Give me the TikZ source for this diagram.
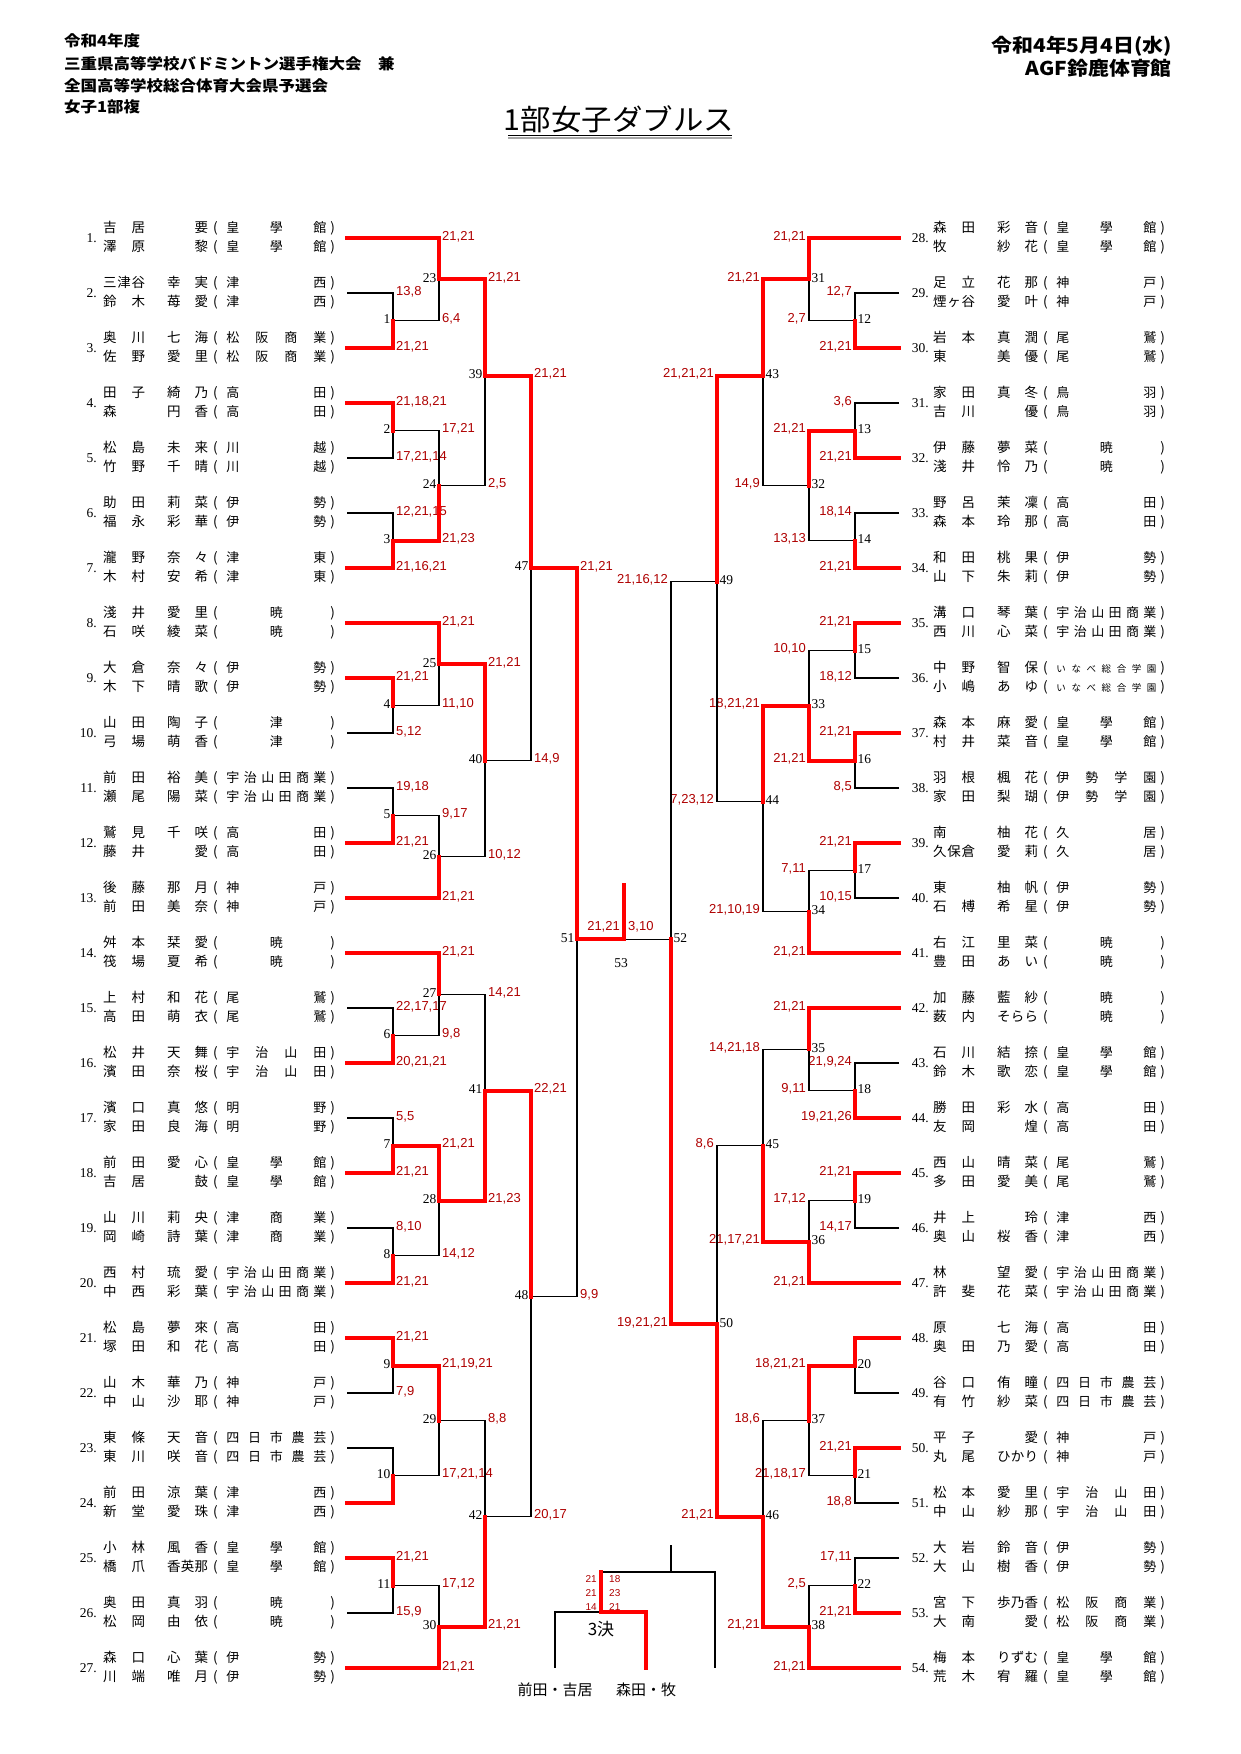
\documentclass[tikz,border=0pt]{standalone}
\usepackage{fontspec}
\usepackage{graphicx}
\setmainfont{Liberation Serif}
\newfontfamily\jpfont{Noto Sans CJK JP}
\newfontfamily\scorefont{Liberation Sans}
\definecolor{scorered}{RGB}{175,0,0}
\definecolor{linered}{RGB}{255,0,0}
\pgfdeclarelayer{front}
\pgfsetlayers{main,front}
% spreading of characters
\def\spfirst#1{#1\spnext}
\def\spnext#1{\ifx\relax#1\else\hskip0pt plus1fill\relax#1\expandafter\spnext\fi}
\def\spF#1\relax{\spfirst#1\relax\hskip0pt plus1fil\relax}
\def\spG#1\relax{\hskip0pt plus1fil\relax\spfirst#1\relax}
\def\spS#1\relax{\hskip0pt plus1fil\relax\spfirst#1\relax\hskip0pt plus1fil\relax}
\newcommand\nrow[4]{\makebox[42pt][s]{\spF#1\relax}\hspace{22pt}\makebox[41pt][s]{\spG#2\relax}\hspace{5pt}(\hspace{8.7pt}\makebox[100pt][s]{\fontsize{#4}{#4}\selectfont\spS#3\relax}\hspace{4pt})}
\tikzset{
  win/.style={draw=linered, line width=4pt, line cap=rect, line join=miter},
  lose/.style={draw=black, line width=1.3pt},
  scbase/.style={inner sep=0pt, text=scorered, font=\scorefont\fontsize{13}{13}\selectfont},
  scL/.style={scbase, anchor=west, xshift=3pt, yshift=1.5pt},
  scR/.style={scbase, anchor=east, xshift=-3pt, yshift=1.5pt},
  mnbase/.style={inner sep=0pt, font=\fontsize{13.5}{13.5}\selectfont},
  mnL/.style={mnbase, anchor=east, xshift=-2.5pt, yshift=1.5pt},
  mnR/.style={mnbase, anchor=west, xshift=2.5pt, yshift=1.5pt},
  numst/.style={anchor=east, inner sep=0pt, font=\fontsize{13.5}{13.5}\selectfont},
  namest/.style={anchor=west, inner sep=0pt, font=\jpfont\fontsize{13.5}{13.5}\selectfont},
  hdr/.style={inner sep=0pt, font=\jpfont\bfseries\fontsize{15}{15}\selectfont},
  hdrR/.style={inner sep=0pt, anchor=east, font=\jpfont\bfseries\fontsize{19}{19}\selectfont},
  qsc/.style={inner sep=0pt, text=scorered, font=\scorefont\fontsize{10}{10}\selectfont},
}
\newcommand\EL[7][13]{%
  \coordinate (e#2) at (347,{238+55*(#2-1)});
  \node[numst] (en#2) at (97,{238+55*(#2-1)}) {#2.};
  \node[namest] (ea#2) at (103,{228+55*(#2-1)}) {\nrow{#3}{#4}{#7}{#1}};
  \node[namest] (eb#2) at (103,{247+55*(#2-1)}) {\nrow{#5}{#6}{#7}{#1}};
}
\newcommand\ER[7][13]{%
  \coordinate (e#2) at (899,{238+55*(#2-28)});
  \node[numst] (en#2) at (929,{238+55*(#2-28)}) {#2.};
  \node[namest] (ea#2) at (933,{228+55*(#2-28)}) {\nrow{#3}{#4}{#7}{#1}};
  \node[namest] (eb#2) at (933,{247+55*(#2-28)}) {\nrow{#5}{#6}{#7}{#1}};
}
\newcommand\M[9]{%
  \coordinate (m#1a) at (#3 -| #2);
  \coordinate (m#1b) at (#4 -| #2);
  \path (#2) ++(0,{238+13.75*#5}) coordinate (m#1);
  \ifnum#6=1
    \draw[lose] (#4) -- (m#1b) -- (m#1);
    \begin{pgfonlayer}{front}\draw[win] (#3) -- (m#1a) -- (m#1);\end{pgfonlayer}
  \else
    \draw[lose] (#3) -- (m#1a) -- (m#1);
    \begin{pgfonlayer}{front}\draw[win] (#4) -- (m#1b) -- (m#1);\end{pgfonlayer}
  \fi
  \node[sc#9] (s#1a) at (m#1a) {#7};
  \node[sc#9] (s#1b) at (m#1b) {#8};
  \node[mn#9] (n#1) at (m#1) {#1};
}
\begin{document}
\begin{tikzpicture}[x=1pt,y=-1pt]
\useasboundingbox[fill=white] (0,0) rectangle (1240,1754);
% header
\node[hdr, anchor=west] (h1) at (64,41) {\scalebox{1.1}[1]{令和4年度}};
\node[hdr, anchor=west] (h2) at (64,64) {\scalebox{1.1}[1]{三重県高等学校バドミントン選手権大会　兼}};
\node[hdr, anchor=west] (h3) at (64,86) {\scalebox{1.1}[1]{全国高等学校総合体育大会県予選会}};
\node[hdr, anchor=west] (h4) at (64,107) {\scalebox{1.1}[1]{女子1部複}};
\node[hdrR] (h5) at (1172,46) {\scalebox{1.1}[1]{令和4年5月4日(水)}};
\node[hdrR] (h6) at (1172,68) {\scalebox{1.1}[1]{AGF鈴鹿体育館}};
\node[inner sep=0pt, anchor=base, font=\jpfont\fontsize{29}{29}\selectfont] (title) at (619,130) {\scalebox{1.05}[1]{1部女子ダブルス}};
\coordinate (ul1) at (508,135.5);
\coordinate (ul2) at (732,135.5);
\coordinate (ul3) at (508,138);
\coordinate (ul4) at (732,138);
\draw[line width=1.4pt] (ul1) -- (ul2);
\draw[line width=1.4pt, black!35] (ul3) -- (ul4);
% columns
\coordinate (cL1) at (393,0);
\coordinate (cL2) at (439,0);
\coordinate (cL3) at (485,0);
\coordinate (cL4) at (531,0);
\coordinate (cL5) at (577,0);
\coordinate (cC) at (624,0);
\coordinate (cR5) at (671,0);
\coordinate (cR4) at (717,0);
\coordinate (cR3) at (763,0);
\coordinate (cR2) at (809,0);
\coordinate (cR1) at (855,0);
% left entries
\EL{1}{吉居}{要}{澤原}{黎}{皇學館}
\EL{2}{三津谷}{幸実}{鈴木}{苺愛}{津西}
\EL{3}{奥川}{七海}{佐野}{愛里}{松阪商業}
\EL{4}{田子}{綺乃}{森}{円香}{高田}
\EL{5}{松島}{未来}{竹野}{千晴}{川越}
\EL{6}{助田}{莉菜}{福永}{彩華}{伊勢}
\EL{7}{瀧野}{奈々}{木村}{安希}{津東}
\EL{8}{淺井}{愛里}{石咲}{綾菜}{暁}
\EL{9}{大倉}{奈々}{木下}{晴歌}{伊勢}
\EL{10}{山田}{陶子}{弓場}{萌香}{津}
\EL{11}{前田}{裕美}{瀬尾}{陽菜}{宇治山田商業}
\EL{12}{鷲見}{千咲}{藤井}{愛}{高田}
\EL{13}{後藤}{那月}{前田}{美奈}{神戸}
\EL{14}{舛本}{栞愛}{筏場}{夏希}{暁}
\EL{15}{上村}{和花}{高田}{萌衣}{尾鷲}
\EL{16}{松井}{天舞}{濱田}{奈桜}{宇治山田}
\EL{17}{濱口}{真悠}{家田}{良海}{明野}
\EL{18}{前田}{愛心}{吉居}{鼓}{皇學館}
\EL{19}{山川}{莉央}{岡崎}{詩葉}{津商業}
\EL{20}{西村}{琉愛}{中西}{彩葉}{宇治山田商業}
\EL{21}{松島}{夢來}{塚田}{和花}{高田}
\EL{22}{山木}{華乃}{中山}{沙耶}{神戸}
\EL{23}{東條}{天音}{東川}{咲音}{四日市農芸}
\EL{24}{前田}{涼葉}{新堂}{愛珠}{津西}
\EL{25}{小林}{風香}{橋爪}{香英那}{皇學館}
\EL{26}{奥田}{真羽}{松岡}{由依}{暁}
\EL{27}{森口}{心葉}{川端}{唯月}{伊勢}
% right entries
\ER{28}{森田}{彩音}{牧}{紗花}{皇學館}
\ER{29}{足立}{花那}{煙ヶ谷}{愛叶}{神戸}
\ER{30}{岩本}{真潤}{東}{美優}{尾鷲}
\ER{31}{家田}{真冬}{吉川}{優}{鳥羽}
\ER{32}{伊藤}{夢菜}{淺井}{怜乃}{暁}
\ER{33}{野呂}{茉凜}{森本}{玲那}{高田}
\ER{34}{和田}{桃果}{山下}{朱莉}{伊勢}
\ER{35}{溝口}{琴葉}{西川}{心菜}{宇治山田商業}
\ER[9.5]{36}{中野}{智保}{小嶋}{あゆ}{いなべ総合学園}
\ER{37}{森本}{麻愛}{村井}{菜音}{皇學館}
\ER{38}{羽根}{楓花}{家田}{梨瑚}{伊勢学園}
\ER{39}{南}{柚花}{久保倉}{愛莉}{久居}
\ER{40}{東}{柚帆}{石榑}{希星}{伊勢}
\ER{41}{右江}{里菜}{豊田}{あい}{暁}
\ER{42}{加藤}{藍紗}{薮内}{そらら}{暁}
\ER{43}{石川}{結捺}{鈴木}{歌恋}{皇學館}
\ER{44}{勝田}{彩水}{友岡}{煌}{高田}
\ER{45}{西山}{晴菜}{多田}{愛美}{尾鷲}
\ER{46}{井上}{玲}{奥山}{桜香}{津西}
\ER{47}{林}{望愛}{許斐}{花菜}{宇治山田商業}
\ER{48}{原}{七海}{奥田}{乃愛}{高田}
\ER{49}{谷口}{侑瞳}{有竹}{紗菜}{四日市農芸}
\ER{50}{平子}{愛}{丸尾}{ひかり}{神戸}
\ER{51}{松本}{愛里}{中山}{紗那}{宇治山田}
\ER{52}{大岩}{鈴音}{大山}{樹香}{伊勢}
\ER{53}{宮下}{歩乃香}{大南}{愛}{松阪商業}
\ER{54}{梅本}{りずむ}{荒木}{宥羅}{皇學館}
% left matches
\M{1}{cL1}{e2}{e3}{6}{2}{13,8}{21,21}{L}
\M{23}{cL2}{e1}{m1}{3}{1}{21,21}{6,4}{L}
\M{2}{cL1}{e4}{e5}{14}{1}{21,18,21}{17,21,14}{L}
\M{3}{cL1}{e6}{e7}{22}{2}{12,21,15}{21,16,21}{L}
\M{24}{cL2}{m2}{m3}{18}{2}{17,21}{21,23}{L}
\M{39}{cL3}{m23}{m24}{10}{1}{21,21}{2,5}{L}
\M{4}{cL1}{e9}{e10}{34}{1}{21,21}{5,12}{L}
\M{25}{cL2}{e8}{m4}{31}{1}{21,21}{11,10}{L}
\M{5}{cL1}{e11}{e12}{42}{2}{19,18}{21,21}{L}
\M{26}{cL2}{m5}{e13}{45}{2}{9,17}{21,21}{L}
\M{40}{cL3}{m25}{m26}{38}{1}{21,21}{10,12}{L}
\M{47}{cL4}{m39}{m40}{24}{1}{21,21}{14,9}{L}
\M{6}{cL1}{e15}{e16}{58}{2}{22,17,17}{20,21,21}{L}
\M{27}{cL2}{e14}{m6}{55}{1}{21,21}{9,8}{L}
\M{7}{cL1}{e17}{e18}{66}{2}{5,5}{21,21}{L}
\M{8}{cL1}{e19}{e20}{74}{2}{8,10}{21,21}{L}
\M{28}{cL2}{m7}{m8}{70}{1}{21,21}{14,12}{L}
\M{41}{cL3}{m27}{m28}{62}{2}{14,21}{21,23}{L}
\M{9}{cL1}{e21}{e22}{82}{1}{21,21}{7,9}{L}
\M{10}{cL1}{e23}{e24}{90}{2}{}{}{L}
\M{29}{cL2}{m9}{m10}{86}{1}{21,19,21}{17,21,14}{L}
\M{11}{cL1}{e25}{e26}{98}{1}{21,21}{15,9}{L}
\M{30}{cL2}{m11}{e27}{101}{2}{17,12}{21,21}{L}
\M{42}{cL3}{m29}{m30}{93}{2}{8,8}{21,21}{L}
\M{48}{cL4}{m41}{m42}{77}{1}{22,21}{20,17}{L}
\M{51}{cL5}{m47}{m48}{51}{1}{21,21}{9,9}{L}
% right matches
\M{12}{cR1}{e29}{e30}{6}{2}{12,7}{21,21}{R}
\M{31}{cR2}{e28}{m12}{3}{1}{21,21}{2,7}{R}
\M{13}{cR1}{e31}{e32}{14}{2}{3,6}{21,21}{R}
\M{14}{cR1}{e33}{e34}{22}{2}{18,14}{21,21}{R}
\M{32}{cR2}{m13}{m14}{18}{1}{21,21}{13,13}{R}
\M{43}{cR3}{m31}{m32}{10}{1}{21,21}{14,9}{R}
\M{15}{cR1}{e35}{e36}{30}{1}{21,21}{18,12}{R}
\M{16}{cR1}{e37}{e38}{38}{1}{21,21}{8,5}{R}
\M{33}{cR2}{m15}{m16}{34}{2}{10,10}{21,21}{R}
\M{17}{cR1}{e39}{e40}{46}{1}{21,21}{10,15}{R}
\M{34}{cR2}{m17}{e41}{49}{2}{7,11}{21,21}{R}
\M{44}{cR3}{m33}{m34}{41}{1}{18,21,21}{21,10,19}{R}
\M{49}{cR4}{m43}{m44}{25}{1}{21,21,21}{7,23,12}{R}
\M{18}{cR1}{e43}{e44}{62}{2}{21,9,24}{19,21,26}{R}
\M{35}{cR2}{e42}{m18}{59}{1}{21,21}{9,11}{R}
\M{19}{cR1}{e45}{e46}{70}{1}{21,21}{14,17}{R}
\M{36}{cR2}{m19}{e47}{73}{2}{17,12}{21,21}{R}
\M{45}{cR3}{m35}{m36}{66}{2}{14,21,18}{21,17,21}{R}
\M{20}{cR1}{e48}{e49}{82}{1}{}{}{R}
\M{21}{cR1}{e50}{e51}{90}{1}{21,21}{18,8}{R}
\M{37}{cR2}{m20}{m21}{86}{1}{18,21,21}{21,18,17}{R}
\M{22}{cR1}{e52}{e53}{98}{2}{17,11}{21,21}{R}
\M{38}{cR2}{m22}{e54}{101}{2}{2,5}{21,21}{R}
\M{46}{cR3}{m37}{m38}{93}{2}{18,6}{21,21}{R}
\M{50}{cR4}{m45}{m46}{79}{2}{8,6}{21,21}{R}
\M{52}{cR5}{m49}{m50}{51}{2}{21,16,12}{19,21,21}{R}
% final
\coordinate (fin) at (m51 -| cC);
\coordinate (finTop) at (624,885);
\draw[lose] (m52) -- (fin);
\begin{pgfonlayer}{front}\draw[win] (m51) -- (fin) -- (finTop);\end{pgfonlayer}
\node[scbase, anchor=east] (f1) at (620,927) {21,21};
\node[scbase, anchor=west] (f2) at (628,927) {3,10};
\node[mnbase] (n53) at (621,963) {53};
% third place
\coordinate (q0) at (671,1545);
\coordinate (q1) at (671,1572);
\coordinate (qL) at (601,1572);
\coordinate (qR) at (715,1572);
\coordinate (qRb) at (715,1668);
\coordinate (qm) at (601,1612);
\coordinate (qa) at (555,1612);
\coordinate (qab) at (555,1668);
\coordinate (qb) at (646,1612);
\coordinate (qbb) at (646,1668);
\draw[lose] (q0) -- (q1);
\draw[lose] (qL) -- (qR) -- (qRb);
\draw[lose] (qm) -- (qa) -- (qab);
\begin{pgfonlayer}{front}\draw[win] (qbb) -- (qb) -- (qm) -- (qL);\end{pgfonlayer}
\node[qsc, anchor=east] (qs1) at (597,1579) {21};
\node[qsc, anchor=east] (qs2) at (597,1593) {21};
\node[qsc, anchor=east] (qs3) at (597,1607) {14};
\node[qsc, anchor=west] (qs4) at (609,1579) {18};
\node[qsc, anchor=west] (qs5) at (609,1593) {23};
\node[qsc, anchor=west] (qs6) at (609,1607) {21};
\node[inner sep=0pt, font=\jpfont\fontsize{17}{17}\selectfont] (q3) at (601,1629) {3決};
\node[inner sep=0pt, font=\jpfont\fontsize{15}{15}\selectfont] (qna) at (555,1690) {前田・吉居};
\node[inner sep=0pt, font=\jpfont\fontsize{15}{15}\selectfont] (qnb) at (646,1690) {森田・牧};
\end{tikzpicture}
\end{document}
